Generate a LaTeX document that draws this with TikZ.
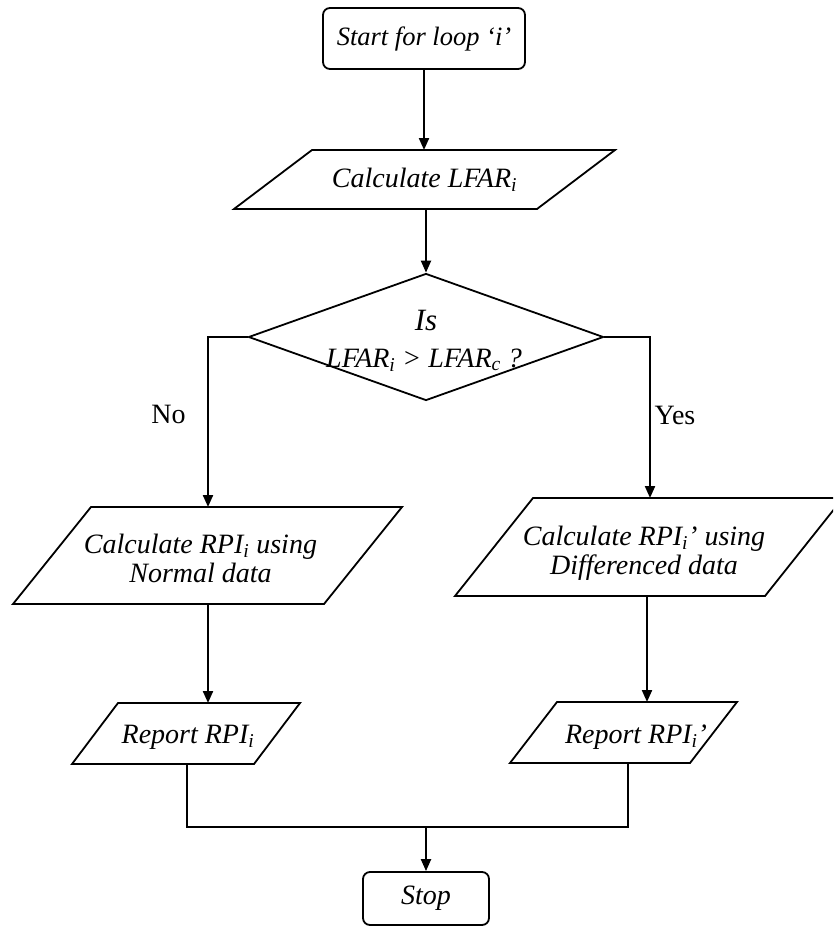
\documentclass[tikz,border=0pt]{standalone}
\usepackage{fontspec}
\setmainfont{Liberation Serif}
\usetikzlibrary{arrows.meta,shapes.geometric}
\begin{document}
\begin{tikzpicture}[x=1pt,y=-1pt,
  box/.style={draw, line width=1.8pt, rounded corners=7pt, inner sep=0pt},
  shp/.style={draw, line width=1.8pt, line join=miter},
  txt/.style={font=\fontsize{28}{32}\selectfont\itshape, align=center, inner sep=0pt},
  lbl/.style={font=\fontsize{28}{32}\selectfont, inner sep=0pt},
  arr/.style={line width=2.1pt, -{Triangle[length=12pt,width=10pt]}},
  ln/.style={line width=2.1pt}]
\path[use as bounding box, clip] (0,0) rectangle (833,926);
\fill[white] (0,0) rectangle (833,926);

% start
\node[box, txt, font=\fontsize{26.5}{30}\selectfont\itshape, minimum width=202pt, minimum height=61pt] (start) at (424,38.5) {Start for loop ‘i’};

% calculate LFAR
\draw[shp] (312,150) -- (615,150) -- (537,209) -- (234,209) -- cycle;
\node[txt] (lfar) at (424.5,179.5) {Calculate LFAR\textsubscript{i}};
\coordinate (lfarT) at (424,150);
\coordinate (lfarB) at (426,209);

% decision
\node[diamond, shp, minimum width=355pt, minimum height=127pt, inner sep=0pt] (dec) at (426,337) {};
\node[txt, anchor=base, font=\fontsize{31}{34}\selectfont\itshape] (isq) at (426,330) {Is};
\node[txt, anchor=base] (cond) at (424,367) {LFAR\textsubscript{i} > LFAR\textsubscript{c} ?};

% left calc
\draw[shp] (91,507) -- (402,507) -- (324,604) -- (13,604) -- cycle;
\node[txt, anchor=base] (calcL1) at (200.5,553) {Calculate RPI\textsubscript{i} using};
\node[txt, anchor=base] (calcL2) at (200.5,582) {Normal data};
\coordinate (calcLT) at (208,507);
\coordinate (calcLB) at (208,604);

% right calc
\draw[shp] (533,498) -- (843,498) -- (765,596) -- (455,596) -- cycle;
\node[txt, anchor=base] (calcR1) at (644,545) {Calculate RPI\textsubscript{i}’ using};
\node[txt, anchor=base] (calcR2) at (644,574) {Differenced data};
\coordinate (calcRT) at (650,498);
\coordinate (calcRB) at (647,596);

% reports
\draw[shp] (118,703) -- (300,703) -- (254,764) -- (72,764) -- cycle;
\node[txt, anchor=base] (repL) at (188,743) {Report RPI\textsubscript{i}};
\coordinate (repLT) at (208,703);
\coordinate (repLB) at (187,764);

\draw[shp] (557,702) -- (737,702) -- (690,763) -- (510,763) -- cycle;
\node[txt, anchor=base] (repR) at (636,743) {Report RPI\textsubscript{i}’};
\coordinate (repRT) at (647,702);
\coordinate (repRB) at (628,763);

% stop
\node[box, txt, minimum width=126pt, minimum height=53pt] (stop) at (426,898.5) {Stop};
\coordinate (join) at (426,827);
\coordinate (joinR) at (628,827);

% labels
\node[lbl] (no) at (168.5,414) {No};
\node[lbl] (yes) at (675,415) {Yes};

% connectors
\draw[arr] (start.south) -- (lfarT);
\draw[arr] (lfarB) -- (dec.north);
\draw[arr] (dec.west) -| (calcLT);
\draw[arr] (dec.east) -| (calcRT);
\draw[arr] (calcLB) -- (repLT);
\draw[arr] (calcRB) -- (repRT);
\draw[ln] (repLB) |- (joinR) -- (repRB);
\draw[arr] (join) -- (stop.north);
\end{tikzpicture}
\end{document}
